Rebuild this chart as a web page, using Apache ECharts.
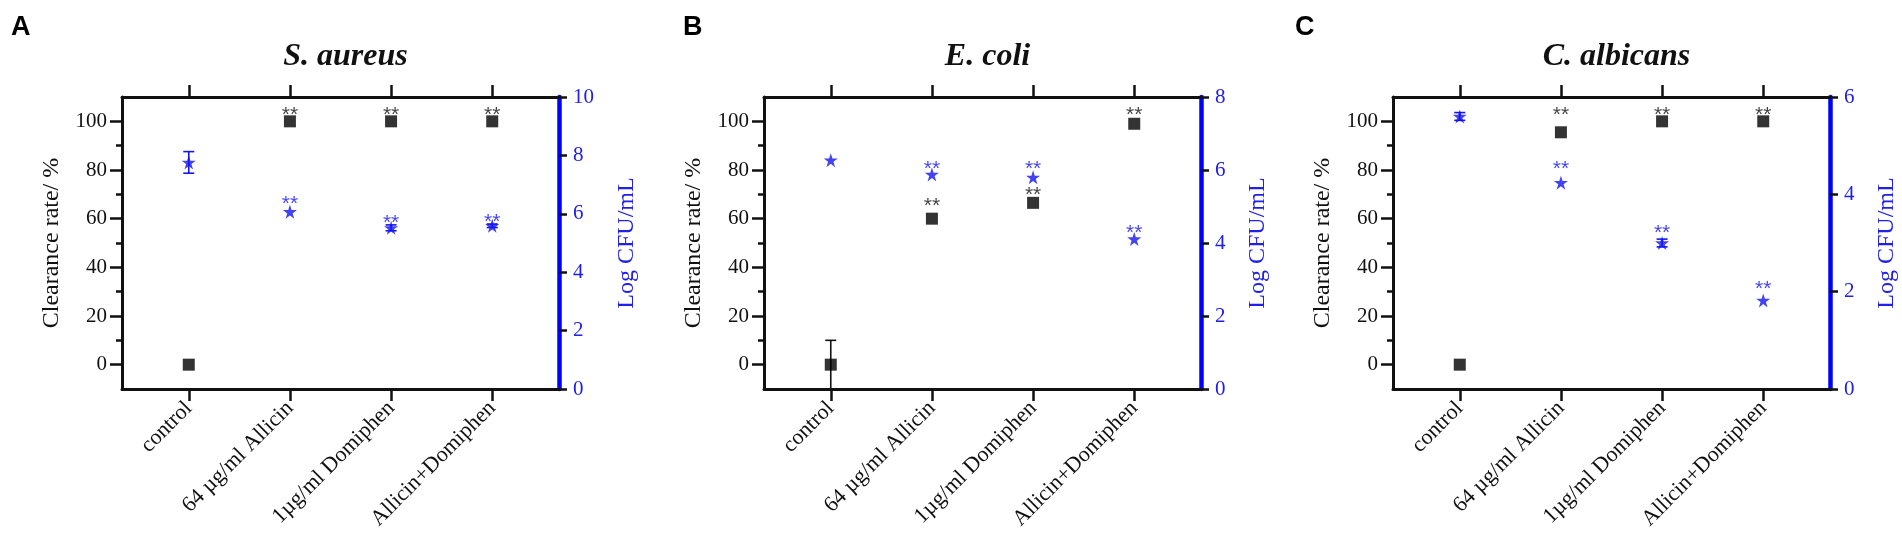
<!DOCTYPE html>
<html><head><meta charset="utf-8">
<script src="https://cdn.jsdelivr.net/npm/echarts@6/dist/echarts.min.js"></script>
<style>html,body{margin:0;padding:0;background:#fff}#c{width:1902px;height:547px}</style>
</head><body><div id="c"></div>
<script>
// ---------- data ----------
const categories = ['control', '64 µg/ml Allicin', '1µg/ml Domiphen', 'Allicin+Domiphen'];
const titles = ['S. aureus', 'E. coli', 'C. albicans'];
const letters = ['A', 'B', 'C'];
const leftTicks = [0, 20, 40, 60, 80, 100];
const leftMinorTicks = [10, 30, 50, 70, 90];
const logMax = [10, 8, 6];

// clearance rate (%) – black squares
const clearA = [0, 100, 100, 100];
const clearB = [0, 60, 66.5, 99];
const clearC = [0, 95.5, 100, 100];
const clearErrA = [0, 0, 0, 0];
const clearErrB = [10, 0, 0, 0];
const clearErrC = [0, 0, 0, 0];
// y positions of black "**" marks (null = none)
const clearSigA = [null, 104.5, 104.5, 104.5];
const clearSigB = [null, 67.2, 71.7, 104.5];
const clearSigC = [null, 104.5, 104.5, 104.5];

// Log CFU/mL – blue stars
const logA = [7.76, 6.07, 5.52, 5.59];
const logB = [6.27, 5.88, 5.80, 4.11];
const logC = [5.60, 4.24, 3.00, 1.82];
const logErrA = [0.37, 0, 0.1, 0.06];
const logErrB = [0, 0, 0, 0];
const logErrC = [0.08, 0, 0.08, 0];
// y positions of blue "**" marks
const logSigA = [null, 6.51, 5.86, 5.90];
const logSigB = [null, 6.16, 6.16, 4.40];
const logSigC = [null, 4.62, 3.30, 2.15];

// ---------- build ----------
const clears = [clearA, clearB, clearC];
const clearErrs = [clearErrA, clearErrB, clearErrC];
const clearSigs = [clearSigA, clearSigB, clearSigC];
const logs = [logA, logB, logC];
const logErrs = [logErrA, logErrB, logErrC];
const logSigs = [logSigA, logSigB, logSigC];

const gridLefts = [122, 764, 1393];
const gridW = 437, gridTop = 97, gridH = 292;
const BLACK = '#111111', BLUE_AX = '#0000ff', BLUE_TXT = '#2020e6', BLUE_MK = '#1414f0';
const SERIF = 'Liberation Serif';
const STAR = 'path://M50,0 L61.2,35.1 L97.6,35.1 L68.2,56.8 L79.4,91.9 L50,70.2 L20.6,91.9 L31.8,56.8 L2.4,35.1 L38.8,35.1 Z';

function errRender(color) {
  return function (params, api) {
    const x = api.value(0), lo = api.value(1), hi = api.value(2);
    const a = api.coord([x, lo]), b = api.coord([x, hi]);
    const w = 5.5, st = { stroke: color, lineWidth: 1.6 };
    return { type: 'group', children: [
      { type: 'line', shape: { x1: b[0], y1: b[1], x2: a[0], y2: a[1] }, style: st },
      { type: 'line', shape: { x1: b[0] - w, y1: b[1], x2: b[0] + w, y2: b[1] }, style: st },
      { type: 'line', shape: { x1: a[0] - w, y1: a[1], x2: a[0] + w, y2: a[1] }, style: st }
    ]};
  };
}

const grid = [], xAxis = [], yAxis = [], series = [], title = [];
for (let p = 0; p < 3; p++) {
  grid.push({ left: gridLefts[p], top: gridTop, width: gridW, height: gridH });
  const xBase = {
    gridIndex: p, type: 'value', min: -0.66, max: 3.66,
    splitLine: { show: false },
    axisLine: { show: true, onZero: false, lineStyle: { color: BLACK, width: 3 } },
    axisTick: { show: true, customValues: [0, 1, 2, 3], length: 12, lineStyle: { color: BLACK, width: 2.5 } }
  };
  xAxis.push(Object.assign({}, xBase, {
    position: 'bottom',
    axisLabel: { show: true, customValues: [0, 1, 2, 3], formatter: v => categories[Math.round(v)],
      rotate: 45, margin: 16, fontFamily: SERIF, fontSize: 22, color: BLACK }
  }));
  xAxis.push(Object.assign({}, xBase, { position: 'top', axisLabel: { show: false } }));

  yAxis.push({
    gridIndex: p, type: 'value', min: -10, max: 110, position: 'left',
    splitLine: { show: false },
    axisLine: { show: true, onZero: false, lineStyle: { color: BLACK, width: 3 } },
    axisTick: { show: true, customValues: leftTicks, length: 12, lineStyle: { color: BLACK, width: 2.5 } },
    axisLabel: { show: true, customValues: leftTicks, margin: 15, fontFamily: SERIF, fontSize: 21, color: BLACK },
    name: 'Clearance rate/ %', nameLocation: 'middle', nameGap: 58,
    nameTextStyle: { fontFamily: SERIF, fontSize: 24, color: BLACK }
  });
  yAxis.push({
    gridIndex: p, type: 'value', min: -10, max: 110, position: 'left',
    splitLine: { show: false }, axisLine: { show: false, onZero: false },
    axisTick: { show: true, customValues: leftMinorTicks, length: 6, lineStyle: { color: BLACK, width: 2.5 } },
    axisLabel: { show: false }
  });
  yAxis.push({
    gridIndex: p, type: 'value', min: 0, max: logMax[p], interval: 2, position: 'right',
    splitLine: { show: false },
    axisLine: { show: true, onZero: false, lineStyle: { color: BLUE_AX, width: 4.5 } },
    axisTick: { show: true, length: 8, lineStyle: { color: BLACK, width: 2.5 } },
    axisLabel: { show: true, margin: 14, fontFamily: SERIF, fontSize: 21, color: BLUE_TXT },
    name: 'Log CFU/mL', nameLocation: 'middle', nameGap: p === 0 ? 56 : 45, nameRotate: 90,
    nameTextStyle: { fontFamily: SERIF, fontSize: 24, color: BLUE_TXT }
  });

  const xi = p * 2, yl = p * 3, yr = p * 3 + 2;
  const cErr = clears[p].map((v, i) => clearErrs[p][i] > 0 ? [i, Math.max(-10, v - clearErrs[p][i]), v + clearErrs[p][i]] : null).filter(d => d);
  const lErr = logs[p].map((v, i) => logErrs[p][i] > 0 ? [i, v - logErrs[p][i], v + logErrs[p][i]] : null).filter(d => d);

  series.push({ type: 'custom', xAxisIndex: xi, yAxisIndex: yl, renderItem: errRender(BLACK), data: cErr, encode: { x: 0, y: [1, 2] }, z: 3, silent: true });
  series.push({ type: 'scatter', xAxisIndex: xi, yAxisIndex: yl, symbol: 'rect', symbolSize: 12,
    itemStyle: { color: '#000' }, data: clears[p].map((v, i) => [i, v]), z: 4 });
  series.push({ type: 'custom', xAxisIndex: xi, yAxisIndex: yr, renderItem: errRender(BLUE_MK), data: lErr, encode: { x: 0, y: [1, 2] }, z: 5, silent: true });
  series.push({ type: 'scatter', xAxisIndex: xi, yAxisIndex: yr, symbol: STAR, symbolSize: 14,
    itemStyle: { color: BLUE_MK }, data: logs[p].map((v, i) => [i, v]), z: 6 });

  const sigLabel = (color) => ({ show: true, position: 'inside', formatter: '**', offset: [0, 5],
    fontFamily: 'Liberation Sans', fontSize: 21, color: color });
  series.push({ type: 'scatter', xAxisIndex: xi, yAxisIndex: yl, symbol: 'circle', symbolSize: 1,
    itemStyle: { color: 'rgba(0,0,0,0)' }, label: sigLabel(BLACK),
    data: clearSigs[p].map((v, i) => v === null ? null : [i, v]).filter(d => d), z: 7, silent: true });
  series.push({ type: 'scatter', xAxisIndex: xi, yAxisIndex: yr, symbol: 'circle', symbolSize: 1,
    itemStyle: { color: 'rgba(0,0,0,0)' }, label: sigLabel(BLUE_MK),
    data: logSigs[p].map((v, i) => v === null ? null : [i, v]).filter(d => d), z: 7, silent: true });

  title.push({ text: titles[p], left: gridLefts[p] + gridW / 2, top: 36, textAlign: 'center',
    textStyle: { fontFamily: SERIF, fontStyle: 'italic', fontWeight: 'bold', fontSize: 32, color: BLACK } });
}
title.push({ text: letters[0], left: 6, top: 9, textStyle: { fontFamily: 'Liberation Sans', fontWeight: 'bold', fontSize: 27, color: '#000' } });
title.push({ text: letters[1], left: 678, top: 9, textStyle: { fontFamily: 'Liberation Sans', fontWeight: 'bold', fontSize: 27, color: '#000' } });
title.push({ text: letters[2], left: 1290, top: 9, textStyle: { fontFamily: 'Liberation Sans', fontWeight: 'bold', fontSize: 27, color: '#000' } });

const chart = echarts.init(document.getElementById('c'));
chart.setOption({ animation: false, backgroundColor: '#fff', title, grid, xAxis, yAxis, series });
</script>
</body></html>
